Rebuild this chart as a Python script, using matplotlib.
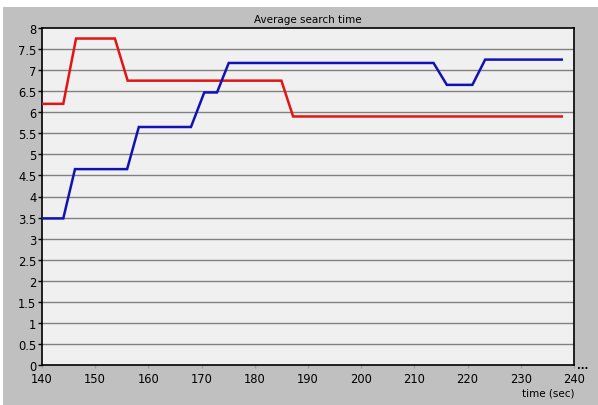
import matplotlib
matplotlib.use('Agg')
import matplotlib.pyplot as plt
from matplotlib.patches import Rectangle

# average search time per run (sec vs value)
red_t = [140, 144, 146.4, 153.7, 156.1, 185.0, 187.2, 237.7]
red_v = [6.2, 6.2, 7.75, 7.75, 6.75, 6.75, 5.9, 5.9]

blue_t = [140, 144, 146.2, 156.0, 158.2, 168.0, 170.5, 172.9, 175.1,
          213.6, 216.1, 220.9, 223.3, 237.7]
blue_v = [3.48, 3.48, 4.65, 4.65, 5.65, 5.65, 6.47, 6.47, 7.17,
          7.17, 6.65, 6.65, 7.25, 7.25]

x_ticks = [140, 150, 160, 170, 180, 190, 200, 210, 220, 230, 240]
y_ticks = [0, 0.5, 1, 1.5, 2, 2.5, 3, 3.5, 4, 4.5, 5, 5.5, 6, 6.5, 7, 7.5, 8]

W, H = 598, 406
fig = plt.figure(figsize=(W / 100, H / 100), dpi=100, facecolor='#c0c0c0')

# thin white margin on the top and left
fig.patches.append(Rectangle((0, 1 - 8 / H), 1, 8 / H, transform=fig.transFigure,
                             facecolor='white', edgecolor='none', zorder=-1))
fig.patches.append(Rectangle((0, 0), 3 / W, 1, transform=fig.transFigure,
                             facecolor='white', edgecolor='none', zorder=-1))

left, right, top, bottom = 42, 574, 29, 366
ax = fig.add_axes([left / W, 1 - bottom / H, (right - left) / W, (bottom - top) / H])
ax.set_zorder(2)
ax.set_facecolor('#f0f0f0')

for y in y_ticks[1:-1]:
    ax.axhline(y, color='#808080', lw=1.0, zorder=1)

ax.plot(red_t, red_v, color='#e41414', lw=1.8, zorder=3, solid_joinstyle='miter')
ax.plot(blue_t, blue_v, color='#1212b4', lw=1.8, zorder=3, solid_joinstyle='miter')

ax.set_xlim(140, 240)
ax.set_ylim(0, 8)
ax.set_xticks(x_ticks)
ax.set_yticks(y_ticks)
ax.set_xticklabels([str(v) for v in x_ticks])
ax.set_yticklabels(['%g' % v for v in y_ticks])
ax.tick_params(axis='both', direction='out', length=3, width=1, color='black',
               labelsize=8.3, pad=1, labelcolor='black')
ax.tick_params(axis='x', length=2, color='#a0a0a0', pad=3)

for s in ax.spines.values():
    s.set_color('black')
    s.set_linewidth(1.2)

fig.text(308 / W, 1 - 20 / H, 'Average search time', ha='center', va='center', fontsize=7.5)
fig.text(548 / W, 1 - 394 / H, 'time (sec)', ha='center', va='center', fontsize=7.5)
fig.text(583 / W, 1 - 371 / H, '...', ha='center', va='bottom', fontsize=7, fontweight='bold')

fig.savefig('out.png', dpi=100, facecolor=fig.get_facecolor())
